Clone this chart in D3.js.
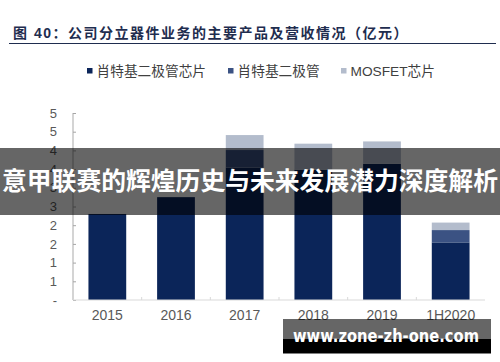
<!DOCTYPE html>
<html><head><meta charset="utf-8">
<script src="https://cdn.jsdelivr.net/npm/d3@7"></script>
<style>
html,body{margin:0;padding:0;background:#fff;}
svg{display:block;}
</style></head>
<body>
<script>
const categories = ["2015","2016","2017","2018","2019","1H2020"];
const seriesNames = ["肖特基二极管芯片","肖特基二极管","MOSFET芯片"];
const chipValues   = [2.30, 2.75, 3.54, 3.48, 3.64, 1.54];
const diodeValues  = [0.00, 0.00, 0.47, 0.00, 0.00, 0.33];
const mosfetValues = [0.00, 0.00, 0.40, 0.70, 0.60, 0.20];
const yTicks = [0,0.5,1,1.5,2,2.5,3,3.5,4,4.5,5];
const titleText = "图 40：公司分立器件业务的主要产品及营收情况（亿元）";
const bannerText = "意甲联赛的辉煌历史与未来发展潜力深度解析";
const watermarkText = "www.zone-zh-one.com";

const colors = ["#0b2559","#3b5283","#b3bccc"];
const W = 500, H = 362;
const svg = d3.select("body").append("svg").attr("width",W).attr("height",H);
const font = "'Liberation Sans','Noto Sans CJK SC',Arial,sans-serif";

// Title
svg.append("text").attr("x",13).attr("y",38)
  .attr("font-family","'Liberation Sans','Noto Sans CJK SC',sans-serif")
  .attr("font-weight","bold").attr("font-size",14).attr("letter-spacing",1.5)
  .attr("fill","#1f2d4f").text(titleText);
svg.append("line").attr("x1",9).attr("x2",496).attr("y1",43.5).attr("y2",43.5)
  .attr("stroke","#1f2d4f").attr("stroke-width",1.2);

// Legend
const legendX = [87, 228, 341];
seriesNames.forEach((n,i)=>{
  svg.append("rect").attr("x",legendX[i]).attr("y",68).attr("width",5.5).attr("height",5.5).attr("fill",colors[i]);
  svg.append("text").attr("x",legendX[i]+9.5).attr("y",76).attr("font-family",font)
    .attr("font-size",13.7).attr("fill","#404040").text(n);
});

// Scales
const x = d3.scaleBand().domain(categories).range([73,485]).paddingInner(0.45).paddingOuter(0.225);
const y = d3.scaleLinear().domain([0,5]).range([300,113]);

const data = categories.map((c,i)=>({cat:c, chip:chipValues[i], diode:diodeValues[i], mosfet:mosfetValues[i]}));
const stack = d3.stack().keys(["chip","diode","mosfet"])(data);

svg.append("g").selectAll("g").data(stack).join("g")
  .attr("fill",(d,i)=>colors[i])
  .selectAll("rect").data(d=>d).join("rect")
  .attr("x",d=>x(d.data.cat)).attr("width",x.bandwidth())
  .attr("y",d=>y(d[1])).attr("height",d=>Math.max(0,y(d[0])-y(d[1])));

// Y axis
const yAxis = d3.axisLeft(y).tickValues(yTicks).tickSize(-3).tickPadding(16)
  .tickFormat(d=> d===0 ? "-" : String(Math.round(d)));
const gy = svg.append("g").attr("transform","translate(73,0)").call(yAxis);
gy.select(".domain").attr("stroke","#c6c6c6").attr("stroke-width",1.5).attr("d","M0,113V300");
gy.selectAll(".tick line").attr("stroke","#a6a6a6");
gy.selectAll(".tick text").attr("font-family",font).attr("font-size",13).attr("fill","#595959");

// X axis
const gx = svg.append("g").attr("transform","translate(0,300)")
  .call(d3.axisBottom(x).tickSize(0).tickPadding(10));
gx.select(".domain").attr("stroke","#d9d9d9").attr("d","M73,0H485");
gx.selectAll(".tick text").attr("font-family",font).attr("font-size",14).attr("fill","#595959");
// category boundary ticks
const bounds = categories.slice(1).map(c=>x(c) - x.step()*x.paddingInner()/2);
svg.append("g").selectAll("line").data(bounds).join("line")
  .attr("x1",d=>d).attr("x2",d=>d).attr("y1",297).attr("y2",300).attr("stroke","#d9d9d9");

// Banner overlay
svg.append("rect").attr("x",0).attr("y",148).attr("width",W).attr("height",67).attr("fill","rgba(0,0,0,0.6)");
svg.append("text").attr("x",250).attr("y",190).attr("text-anchor","middle")
  .attr("font-family","'Noto Sans CJK SC',sans-serif").attr("font-weight","bold")
  .attr("font-size",24.8).attr("fill","#fff").text(bannerText);

// Watermark
svg.append("rect").attr("x",283).attr("y",319).attr("width",208).attr("height",20).attr("fill","rgba(0,0,0,0.6)");
svg.append("rect").attr("x",283).attr("y",339).attr("width",208).attr("height",14.5).attr("fill","#000");
svg.append("text").attr("x",293).attr("y",342).attr("textLength",186).attr("lengthAdjust","spacingAndGlyphs")
  .attr("font-family","'DejaVu Sans',sans-serif").attr("font-weight","bold")
  .attr("font-size",18).attr("fill","#fff").text(watermarkText);
</script>
</body></html>
